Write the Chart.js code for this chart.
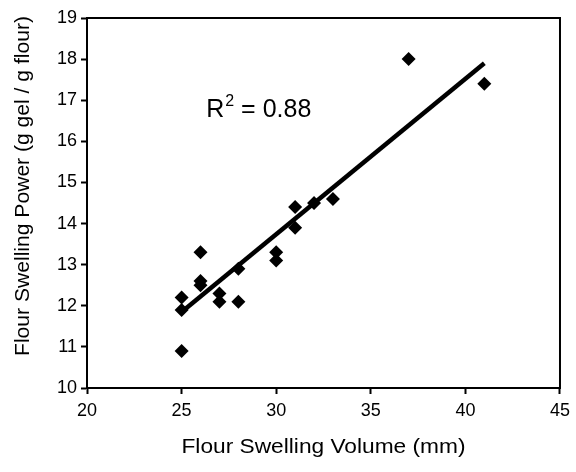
<!DOCTYPE html>
<html>
<head>
<meta charset="utf-8">
<script src="https://cdn.jsdelivr.net/npm/chart.js@4"></script>
<style>
  html, body { margin: 0; padding: 0; background: #fff; }
  #wrap { width: 576px; height: 472px; }
</style>
</head>
<body>
<div id="wrap"><canvas id="myCanvas" width="576" height="472"></canvas></div>
<script>
// data
const volume = [25, 25, 25, 26, 26, 26, 27, 27, 28, 28, 30, 30, 31, 31, 32, 33, 37, 41];
const power = [10.9, 12.2, 11.9, 13.3, 12.6, 12.5, 12.3, 12.1, 12.9, 12.1, 13.3, 13.1, 14.4, 13.9, 14.5, 14.6, 18.0, 17.4];
const trendX = [25, 41];
const trendY = [11.85, 17.9];
const xTicks = [20, 25, 30, 35, 40, 45];
const yTicks = [10, 11, 12, 13, 14, 15, 16, 17, 18, 19];

const fontFamily = "'Liberation Sans', Arial, sans-serif";

// draw text stretched to a given width
function stretchedText(ctx, text, x, y, width) {
  const w = ctx.measureText(text).width;
  ctx.save();
  ctx.translate(x, y);
  ctx.scale(width / w, 1);
  ctx.fillText(text, 0, 0);
  ctx.restore();
}

// frame, axis titles and R² note
const extras = {
  id: "extras",
  afterDraw(chart) {
    const ctx = chart.ctx;
    const a = chart.chartArea;
    ctx.save();
    ctx.strokeStyle = "#000";
    ctx.lineWidth = 2;
    ctx.strokeRect(a.left, a.top, a.right - a.left, a.bottom - a.top);

    ctx.fillStyle = "#000";
    ctx.textAlign = "center";
    ctx.textBaseline = "middle";
    ctx.font = "20px " + fontFamily;
    stretchedText(ctx, "Flour Swelling Volume (mm)", (a.left + a.right) / 2, 447, 284);

    ctx.translate(23, 186);
    ctx.rotate(-Math.PI / 2);
    ctx.font = "21px " + fontFamily;
    stretchedText(ctx, "Flour Swelling Power (g gel / g flour)", 0, 0, 340);
    ctx.restore();

    ctx.save();
    const sx = chart.scales.x, sy = chart.scales.y;
    const px = sx.getPixelForValue(26.3);
    const py = sy.getPixelForValue(16.6);
    ctx.fillStyle = "#000";
    ctx.textBaseline = "alphabetic";
    ctx.textAlign = "left";
    ctx.font = "25px " + fontFamily;
    ctx.fillText("R", px, py);
    const w = ctx.measureText("R").width;
    ctx.font = "16px " + fontFamily;
    ctx.fillText("2", px + w + 1, py - 11);
    const w2 = ctx.measureText("2").width;
    ctx.font = "25px " + fontFamily;
    ctx.fillText(" = 0.88", px + w + w2 + 1, py);
    ctx.restore();
  }
};

function createScatter() {
  const ctx = document.getElementById("myCanvas").getContext("2d");

  const points = volume.map((v, i) => ({ x: v, y: power[i] }));
  const trend = trendX.map((v, i) => ({ x: v, y: trendY[i] }));

  new Chart(ctx, {
    type: "scatter",
    data: {
      datasets: [
        {
          label: "Trend",
          data: trend,
          showLine: true,
          borderColor: "#000",
          borderWidth: 4.5,
          pointRadius: 0,
          order: 2,
        },
        {
          label: "Samples",
          data: points,
          pointStyle: "rectRot",
          pointRadius: 7,
          pointHoverRadius: 7,
          backgroundColor: "#000",
          borderColor: "#000",
          borderWidth: 0,
          order: 1,
        },
      ],
    },
    options: {
      responsive: false,
      animation: false,
      layout: { padding: { top: 18, right: 13, left: 0, bottom: 0 } },
      plugins: {
        legend: { display: false },
        tooltip: { enabled: false },
      },
      scales: {
        x: {
          type: "linear",
          min: 20,
          max: 45,
          afterBuildTicks: (s) => { s.ticks = xTicks.map((v) => ({ value: v })); },
          afterFit: (s) => { s.height = 84; },
          grid: {
            display: true,
            drawOnChartArea: false,
            drawTicks: true,
            tickLength: 6,
            color: "#000",
            tickWidth: 2,
          },
          border: { color: "#000", width: 2 },
          ticks: {
            color: "#000",
            padding: 6,
            font: { family: fontFamily, size: 18 },
          },
        },
        y: {
          type: "linear",
          min: 10,
          max: 19,
          afterBuildTicks: (s) => { s.ticks = yTicks.map((v) => ({ value: v })); },
          afterFit: (s) => { s.width = 87; },
          grid: {
            display: true,
            drawOnChartArea: false,
            drawTicks: true,
            tickLength: 6,
            color: "#000",
            tickWidth: 2,
          },
          border: { color: "#000", width: 2 },
          ticks: {
            color: "#000",
            padding: 4,
            font: { family: fontFamily, size: 18 },
          },
        },
      },
    },
    plugins: [extras],
  });
}

createScatter();
</script>
</body>
</html>
